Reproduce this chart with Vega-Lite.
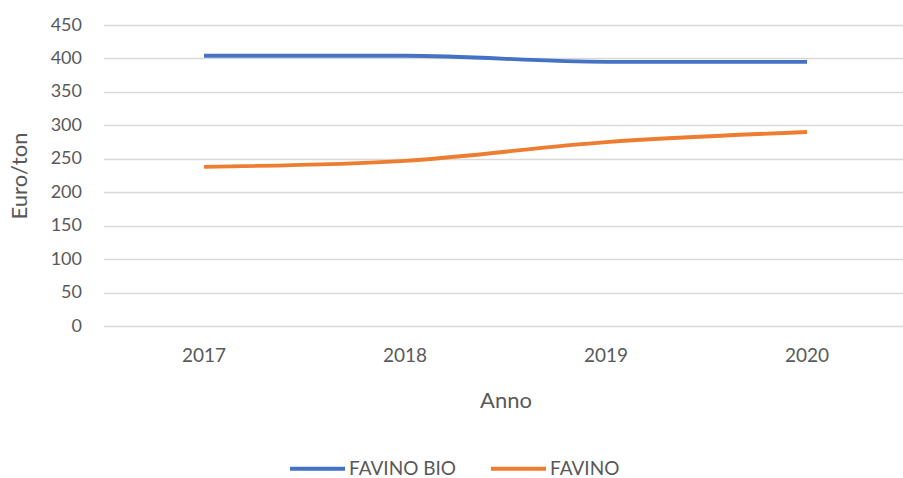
{
  "$schema": "https://vega.github.io/schema/vega-lite/v6.json",
  "autosize": "none",
  "width": 804,
  "height": 301,
  "padding": {"left": 103.5, "top": 25, "right": 0, "bottom": 152},
  "background": "white",
  "config": {
    "view": {"stroke": null},
    "font": "Lato",
    "axis": {"labelFont": "Lato", "titleFont": "Lato", "labelColor": "#595959", "titleColor": "#595959", "titleFontWeight": "normal"},
    "legend": {"labelFont": "Lato", "labelColor": "#595959"}
  },
  "data": {
    "values": [
      {"anno": "2017", "serie": "FAVINO BIO", "prezzo": 404},
      {"anno": "2018", "serie": "FAVINO BIO", "prezzo": 404},
      {"anno": "2019", "serie": "FAVINO BIO", "prezzo": 395},
      {"anno": "2020", "serie": "FAVINO BIO", "prezzo": 395},
      {"anno": "2017", "serie": "FAVINO", "prezzo": 238},
      {"anno": "2018", "serie": "FAVINO", "prezzo": 247},
      {"anno": "2019", "serie": "FAVINO", "prezzo": 275},
      {"anno": "2020", "serie": "FAVINO", "prezzo": 290}
    ]
  },
  "mark": {"type": "line", "interpolate": "monotone", "strokeWidth": 3.8, "strokeCap": "butt"},
  "encoding": {
    "x": {
      "field": "anno",
      "type": "ordinal",
      "title": "Anno",
      "scale": {"type": "band", "paddingInner": 0, "paddingOuter": 0},
      "axis": {
        "labelAngle": 0,
        "labelFontSize": 19,
        "titleFontSize": 22,
        "labelPadding": 20,
        "titlePadding": 25,
        "ticks": false,
        "domain": true,
        "domainColor": "#d9d9d9",
        "grid": false
      }
    },
    "y": {
      "field": "prezzo",
      "type": "quantitative",
      "title": "Euro/ton",
      "scale": {"domain": [0, 450], "nice": false},
      "axis": {
        "values": [0, 50, 100, 150, 200, 250, 300, 350, 400, 450],
        "labelFontSize": 18,
        "titleFontSize": 22,
        "labelPadding": 22,
        "titlePadding": 19,
        "ticks": false,
        "domain": false,
        "grid": true,
        "gridColor": "#d9d9d9",
        "gridWidth": 1.3
      }
    },
    "color": {
      "field": "serie",
      "type": "nominal",
      "title": null,
      "sort": ["FAVINO BIO", "FAVINO"],
      "scale": {"domain": ["FAVINO BIO", "FAVINO"], "range": ["#4472C4", "#ED7D31"]},
      "legend": {
        "orient": "none",
        "direction": "horizontal",
        "legendX": 184.5,
        "legendY": 414,
        "symbolType": "stroke",
        "symbolSize": 3025,
        "symbolStrokeWidth": 3.8,
        "labelFontSize": 19,
        "labelOffset": 2,
        "columnPadding": 26
      }
    }
  }
}
